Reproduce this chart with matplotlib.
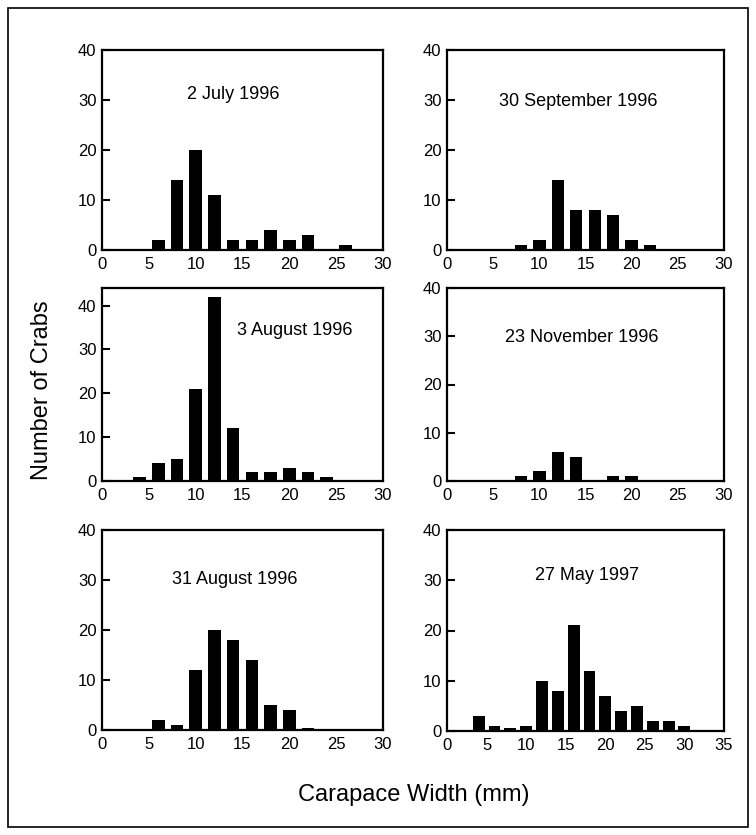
import matplotlib
matplotlib.use("Agg")
import matplotlib.pyplot as plt
from matplotlib.patches import Rectangle

plt.rcParams['font.family'] = ['Liberation Sans', 'DejaVu Sans']

W, H = 756, 835

# ---- data ----
july_x = [6, 8, 10, 12, 14, 16, 18, 20, 22, 24, 26]
july_n = [2, 14, 20, 11, 2, 2, 4, 2, 3, 0, 1]

sep_x = [8, 10, 12, 14, 16, 18, 20, 22]
sep_n = [1, 2, 14, 8, 8, 7, 2, 1]

aug3_x = [4, 6, 8, 10, 12, 14, 16, 18, 20, 22, 24]
aug3_n = [1, 4, 5, 21, 42, 12, 2, 2, 3, 2, 1]

nov_x = [8, 10, 12, 14, 18, 20]
nov_n = [1, 2, 6, 5, 1, 1]

aug31_x = [6, 8, 10, 12, 14, 16, 18, 20, 22]
aug31_n = [2, 1, 12, 20, 18, 14, 5, 4, 0.5]

may_x = [4, 6, 8, 10, 12, 14, 16, 18, 20, 22, 24, 26, 28, 30]
may_n = [3, 1, 0.5, 1, 10, 8, 21, 12, 7, 4, 5, 2, 2, 1]

titles = ["2 July 1996", "30 September 1996", "3 August 1996",
          "23 November 1996", "31 August 1996", "27 May 1997"]
xmax = [30, 30, 30, 30, 30, 35]
ymax = [40, 40, 44, 40, 40, 40]
xticks30 = [0, 5, 10, 15, 20, 25, 30]
xticks35 = [0, 5, 10, 15, 20, 25, 30, 35]
yticks = [0, 10, 20, 30, 40]

xs = [july_x, sep_x, aug3_x, nov_x, aug31_x, may_x]
ns = [july_n, sep_n, aug3_n, nov_n, aug31_n, may_n]

# ---- layout (pixels) ----
boxes = [(102, 383, 50, 250), (447, 724, 50, 250),
         (102, 383, 288, 481), (447, 724, 288, 481),
         (102, 383, 530, 730), (447, 724, 530, 731)]
title_pos = [(14.0, 31), (14.2, 29.7), (20.6, 34.3), (14.6, 29.8), (14.2, 30), (17.7, 31)]
bar_w = [1.35, 1.35, 1.35, 1.35, 1.35, 1.5]

fig = plt.figure(figsize=(W / 100, H / 100), dpi=100)
fig.patch.set_facecolor('white')

for i in range(6):
    x0, x1, y0, y1 = boxes[i]
    ax = fig.add_axes([x0 / W, 1 - y1 / H, (x1 - x0) / W, (y1 - y0) / H])
    ax.bar(xs[i], ns[i], width=bar_w[i], color='black', edgecolor='black', linewidth=0)
    ax.set_xlim(0, xmax[i])
    ax.set_ylim(0, ymax[i])
    ax.set_xticks(xticks35 if xmax[i] == 35 else xticks30)
    ax.set_yticks(yticks)
    ax.tick_params(axis='x', length=0, pad=5, labelsize=12)
    ax.tick_params(axis='y', direction='in', length=6, width=1.5, pad=4, labelsize=12)
    for s in ax.spines.values():
        s.set_linewidth(1.6)
    tx, ty = title_pos[i]
    ax.text(tx, ty, titles[i], ha='center', va='center', fontsize=13)

fig.text(42 / W, 1 - 390 / H, "Number of Crabs", rotation=90, ha='center', va='center', fontsize=17)
fig.text(414 / W, 1 - 795 / H, "Carapace Width (mm)", ha='center', va='center', fontsize=17)

fig.patches.append(Rectangle((8 / W, 8 / H), (W - 16) / W, (H - 16) / H,
                             transform=fig.transFigure, fill=False,
                             edgecolor='black', linewidth=1.2))

fig.savefig("out.png", dpi=100)
